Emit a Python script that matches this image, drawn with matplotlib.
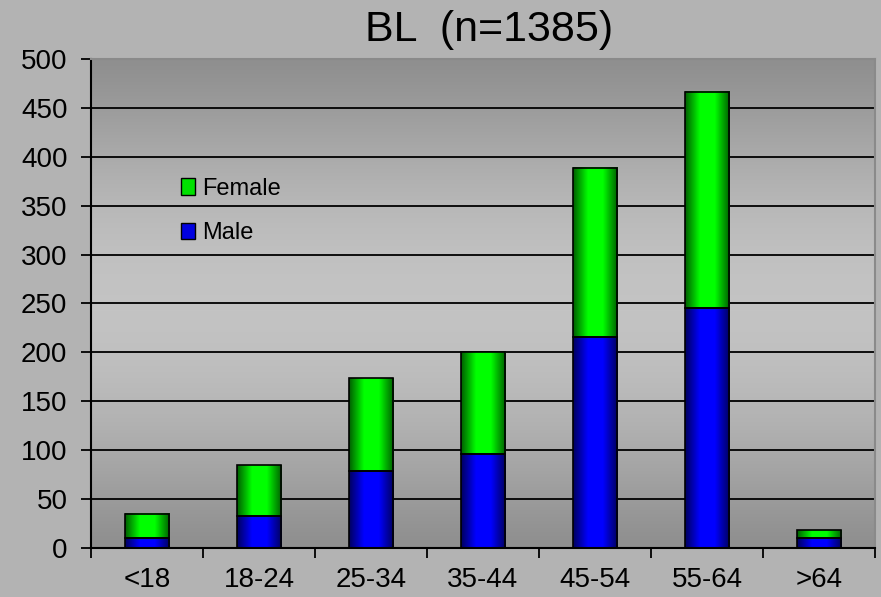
import numpy as np
import matplotlib
matplotlib.use("Agg")
import matplotlib.pyplot as plt
from matplotlib.colors import LinearSegmentedColormap
from matplotlib.patches import Patch

# 데이터
categories = ["<18", "18-24", "25-34", "35-44", "45-54", "55-64", ">64"]
male = [10, 33, 79, 96, 216, 245, 10]
female = [25, 52, 95, 104, 173, 221, 8]
title = "BL  (n=1385)"

plt.rcParams['font.family'] = ['Liberation Sans', 'DejaVu Sans']

fig = plt.figure(figsize=(8.81, 5.97), dpi=100, facecolor='#b3b3b3')
ax = fig.add_axes([0.1033, 0.0821, 0.8899, 0.8191])

x = np.arange(len(categories))
width = 0.4

# 배경 그라데이션 (위/아래 어둡고 가운데 밝게)
t = np.linspace(0, 1, 256)
shade = 0.56 + 0.205 * np.sin(np.pi * t) ** 1.2
bg = np.dstack([shade, shade, shade]).reshape(256, 1, 3)
ax.imshow(bg, extent=[0, 1, 0, 1], transform=ax.transAxes, aspect='auto', zorder=0)

# 막대 그라데이션 컬러맵
blue_cm = LinearSegmentedColormap.from_list('b', ['#000060', '#0000ff', '#0000ff', '#000060'])
green_cm = LinearSegmentedColormap.from_list('g', ['#006000', '#00ff00', '#00ff00', '#006000'])
grad = np.linspace(0, 1, 64).reshape(1, -1)

bars_m = ax.bar(x, male, width, color='none', edgecolor='black', linewidth=1.2, zorder=3)
bars_f = ax.bar(x, female, width, bottom=male, color='none', edgecolor='black', linewidth=1.2, zorder=3)

for bars, cm in [(bars_m, blue_cm), (bars_f, green_cm)]:
    for p in bars:
        x0, y0 = p.get_x(), p.get_y()
        ax.imshow(grad, cmap=cm, extent=[x0, x0 + p.get_width(), y0, y0 + p.get_height()],
                  aspect='auto', zorder=2, interpolation='bilinear')

ax.set_xlim(-0.5, len(categories) - 0.5)
ax.set_ylim(0, 500)
ax.set_yticks(np.arange(0, 501, 50))
ax.set_xticks(x)
ax.set_xticklabels(categories)
ax.set_xticks(np.arange(-0.5, len(categories), 1), minor=True)

ax.yaxis.grid(True, color='black', linewidth=1.3, zorder=1)
ax.set_axisbelow(True)

ax.tick_params(axis='y', direction='out', length=7, width=1.3, labelsize=20, pad=10, colors='black')
ax.tick_params(axis='x', which='major', length=0, labelsize=20, pad=14)
ax.tick_params(axis='x', which='minor', direction='out', length=7, width=1.3)

for s in ['left', 'bottom']:
    ax.spines[s].set_color('black')
    ax.spines[s].set_linewidth(1.5)
    ax.spines[s].set_zorder(4)
for s in ['top', 'right']:
    ax.spines[s].set_color('#8a8a8a')
    ax.spines[s].set_linewidth(1.5)
    ax.spines[s].set_zorder(4)

handles = [Patch(facecolor='#00e000', edgecolor='black', label='Female'),
           Patch(facecolor='#0000e0', edgecolor='black', label='Male')]
ax.legend(handles=handles, loc='upper left', bbox_to_anchor=(0.115, 0.757), frameon=False,
          fontsize=17, handlelength=0.6, handleheight=0.7, handletextpad=0.3,
          labelspacing=0.95, borderpad=0, borderaxespad=0)

fig.text(0.555, 0.949, title, ha='center', va='center', fontsize=31)

fig.savefig("out.png", dpi=100, facecolor=fig.get_facecolor())
